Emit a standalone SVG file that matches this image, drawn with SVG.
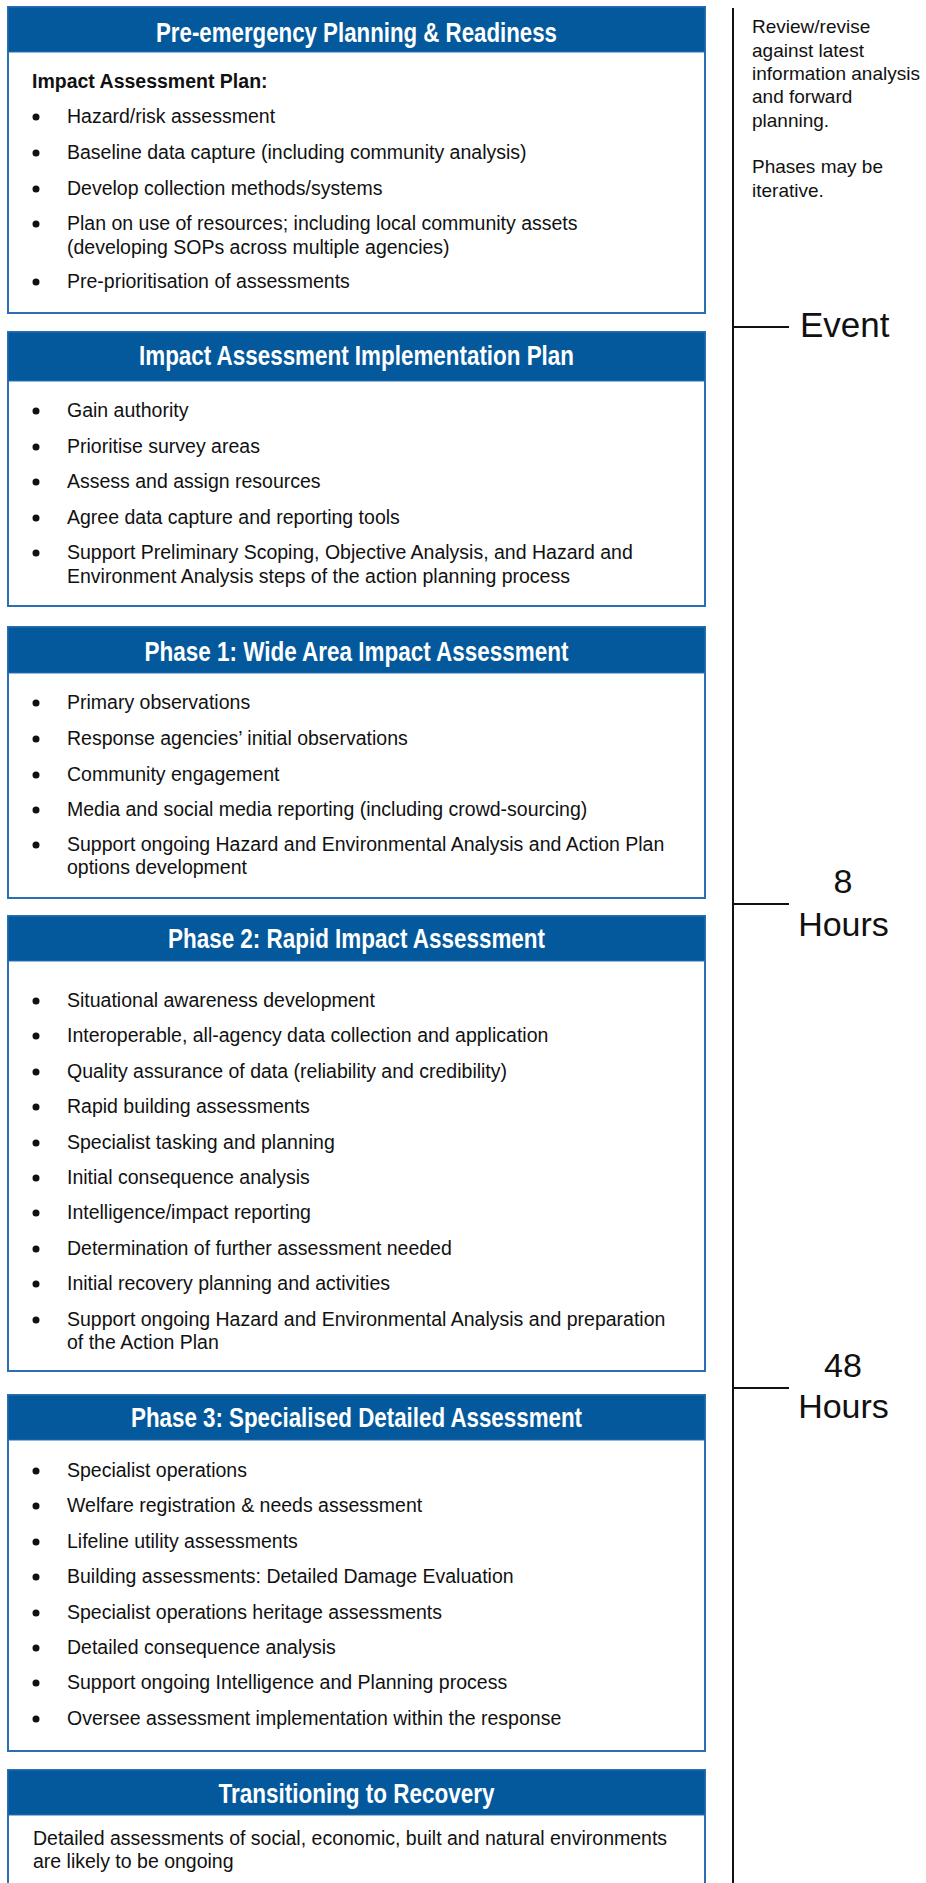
<svg xmlns="http://www.w3.org/2000/svg" width="926" height="1883" viewBox="0 0 926 1883">
<style>
.box{fill:#ffffff;stroke:#2a6fb4;stroke-width:2}
.hdr{fill:#03599c;stroke:#2a6fb4;stroke-width:1}
.title{font-family:"Liberation Sans Narrow","Arial Narrow","Liberation Sans",Arial,sans-serif;font-weight:bold;font-size:28px;fill:#ffffff;text-anchor:middle}
.t{font-family:"Liberation Sans",Arial,sans-serif;font-size:19.5px;fill:#111111}
.b{font-family:"Liberation Sans",Arial,sans-serif;font-size:19.5px;font-weight:bold;fill:#111111}
.side{font-family:"Liberation Sans",Arial,sans-serif;font-size:19px;fill:#111111}
.mark{font-family:"Liberation Sans",Arial,sans-serif;font-size:34px;fill:#111111;text-anchor:middle}
.dot{fill:#111111}
.line{stroke:#111111;stroke-width:2;fill:none}
</style>

<g id="box1">
<rect class="box" x="8" y="7" width="697" height="306"/>
<rect class="hdr" x="8" y="7" width="697" height="45"/>
<text class="title" x="356.5" y="42" textLength="401" lengthAdjust="spacingAndGlyphs">Pre-emergency Planning &amp; Readiness</text>
<text class="b" x="32" y="88">Impact Assessment Plan:</text>
<circle class="dot" cx="36" cy="117" r="3.5"/><text class="t" x="67" y="123">Hazard/risk assessment</text>
<circle class="dot" cx="36" cy="153" r="3.5"/><text class="t" x="67" y="159">Baseline data capture (including community analysis)</text>
<circle class="dot" cx="36" cy="189" r="3.5"/><text class="t" x="67" y="195">Develop collection methods/systems</text>
<circle class="dot" cx="36" cy="224" r="3.5"/><text class="t" x="67" y="230">Plan on use of resources; including local community assets</text>
<text class="t" x="67" y="254">(developing SOPs across multiple agencies)</text>
<circle class="dot" cx="36" cy="282" r="3.5"/><text class="t" x="67" y="288">Pre-prioritisation of assessments</text>
</g>

<g id="box2">
<rect class="box" x="8" y="332" width="697" height="274"/>
<rect class="hdr" x="8" y="332" width="697" height="49"/>
<text class="title" x="356.5" y="365" textLength="435" lengthAdjust="spacingAndGlyphs">Impact Assessment Implementation Plan</text>
<circle class="dot" cx="36" cy="411" r="3.5"/><text class="t" x="67" y="417">Gain authority</text>
<circle class="dot" cx="36" cy="447" r="3.5"/><text class="t" x="67" y="453">Prioritise survey areas</text>
<circle class="dot" cx="36" cy="482" r="3.5"/><text class="t" x="67" y="488">Assess and assign resources</text>
<circle class="dot" cx="36" cy="518" r="3.5"/><text class="t" x="67" y="524">Agree data capture and reporting tools</text>
<circle class="dot" cx="36" cy="553" r="3.5"/><text class="t" x="67" y="559">Support Preliminary Scoping, Objective Analysis, and Hazard and</text>
<text class="t" x="67" y="583">Environment Analysis steps of the action planning process</text>
</g>

<g id="box3">
<rect class="box" x="8" y="627" width="697" height="271"/>
<rect class="hdr" x="8" y="627" width="697" height="46"/>
<text class="title" x="356.5" y="661" textLength="424" lengthAdjust="spacingAndGlyphs">Phase 1: Wide Area Impact Assessment</text>
<circle class="dot" cx="36" cy="703" r="3.5"/><text class="t" x="67" y="709">Primary observations</text>
<circle class="dot" cx="36" cy="739" r="3.5"/><text class="t" x="67" y="745">Response agencies’ initial observations</text>
<circle class="dot" cx="36" cy="775" r="3.5"/><text class="t" x="67" y="781">Community engagement</text>
<circle class="dot" cx="36" cy="810" r="3.5"/><text class="t" x="67" y="816">Media and social media reporting (including crowd-sourcing)</text>
<circle class="dot" cx="36" cy="845" r="3.5"/><text class="t" x="67" y="851">Support ongoing Hazard and Environmental Analysis and Action Plan</text>
<text class="t" x="67" y="874">options development</text>
</g>

<g id="box4">
<rect class="box" x="8" y="916" width="697" height="455"/>
<rect class="hdr" x="8" y="916" width="697" height="45"/>
<text class="title" x="356.5" y="948" textLength="377" lengthAdjust="spacingAndGlyphs">Phase 2: Rapid Impact Assessment</text>
<circle class="dot" cx="36" cy="1001" r="3.5"/><text class="t" x="67" y="1007">Situational awareness development</text>
<circle class="dot" cx="36" cy="1036" r="3.5"/><text class="t" x="67" y="1042">Interoperable, all-agency data collection and application</text>
<circle class="dot" cx="36" cy="1072" r="3.5"/><text class="t" x="67" y="1078">Quality assurance of data (reliability and credibility)</text>
<circle class="dot" cx="36" cy="1107" r="3.5"/><text class="t" x="67" y="1113">Rapid building assessments</text>
<circle class="dot" cx="36" cy="1143" r="3.5"/><text class="t" x="67" y="1149">Specialist tasking and planning</text>
<circle class="dot" cx="36" cy="1178" r="3.5"/><text class="t" x="67" y="1184">Initial consequence analysis</text>
<circle class="dot" cx="36" cy="1213" r="3.5"/><text class="t" x="67" y="1219">Intelligence/impact reporting</text>
<circle class="dot" cx="36" cy="1249" r="3.5"/><text class="t" x="67" y="1255">Determination of further assessment needed</text>
<circle class="dot" cx="36" cy="1284" r="3.5"/><text class="t" x="67" y="1290">Initial recovery planning and activities</text>
<circle class="dot" cx="36" cy="1320" r="3.5"/><text class="t" x="67" y="1326">Support ongoing Hazard and Environmental Analysis and preparation</text>
<text class="t" x="67" y="1349">of the Action Plan</text>
</g>

<g id="box5">
<rect class="box" x="8" y="1395" width="697" height="356"/>
<rect class="hdr" x="8" y="1395" width="697" height="45"/>
<text class="title" x="356.5" y="1427" textLength="451" lengthAdjust="spacingAndGlyphs">Phase 3: Specialised Detailed Assessment</text>
<circle class="dot" cx="36" cy="1471" r="3.5"/><text class="t" x="67" y="1477">Specialist operations</text>
<circle class="dot" cx="36" cy="1506" r="3.5"/><text class="t" x="67" y="1512">Welfare registration &amp; needs assessment</text>
<circle class="dot" cx="36" cy="1542" r="3.5"/><text class="t" x="67" y="1548">Lifeline utility assessments</text>
<circle class="dot" cx="36" cy="1577" r="3.5"/><text class="t" x="67" y="1583">Building assessments: Detailed Damage Evaluation</text>
<circle class="dot" cx="36" cy="1613" r="3.5"/><text class="t" x="67" y="1619">Specialist operations heritage assessments</text>
<circle class="dot" cx="36" cy="1648" r="3.5"/><text class="t" x="67" y="1654">Detailed consequence analysis</text>
<circle class="dot" cx="36" cy="1683" r="3.5"/><text class="t" x="67" y="1689">Support ongoing Intelligence and Planning process</text>
<circle class="dot" cx="36" cy="1719" r="3.5"/><text class="t" x="67" y="1725">Oversee assessment implementation within the response</text>
</g>

<g id="box6">
<rect class="box" x="8" y="1770" width="697" height="130"/>
<rect class="hdr" x="8" y="1770" width="697" height="45"/>
<text class="title" x="356.5" y="1803" textLength="276" lengthAdjust="spacingAndGlyphs">Transitioning to Recovery</text>
<text class="t" x="33" y="1845">Detailed assessments of social, economic, built and natural environments</text>
<text class="t" x="33" y="1868">are likely to be ongoing</text>
</g>

<g id="connectors">
<line class="line" x1="733" y1="8" x2="733" y2="1883"/>
<line class="line" x1="733" y1="327" x2="789" y2="327"/>
<line class="line" x1="733" y1="904" x2="789" y2="904"/>
<line class="line" x1="733" y1="1388" x2="789" y2="1388"/>
</g>

<g id="note">
<text class="side" x="752" y="33">Review/revise</text>
<text class="side" x="752" y="57">against latest</text>
<text class="side" x="752" y="80">information analysis</text>
<text class="side" x="752" y="103">and forward</text>
<text class="side" x="752" y="127">planning.</text>
<text class="side" x="752" y="173">Phases may be</text>
<text class="side" x="752" y="197">iterative.</text>
</g>

<g id="event">
<text class="mark" x="800" y="337" style="text-anchor:start;font-size:35px">Event</text>
</g>
<g id="hours8">
<text class="mark" x="843" y="893">8</text>
<text class="mark" x="843.5" y="936">Hours</text>
</g>
<g id="hours48">
<text class="mark" x="843" y="1377">48</text>
<text class="mark" x="843.5" y="1418">Hours</text>
</g>
</svg>
